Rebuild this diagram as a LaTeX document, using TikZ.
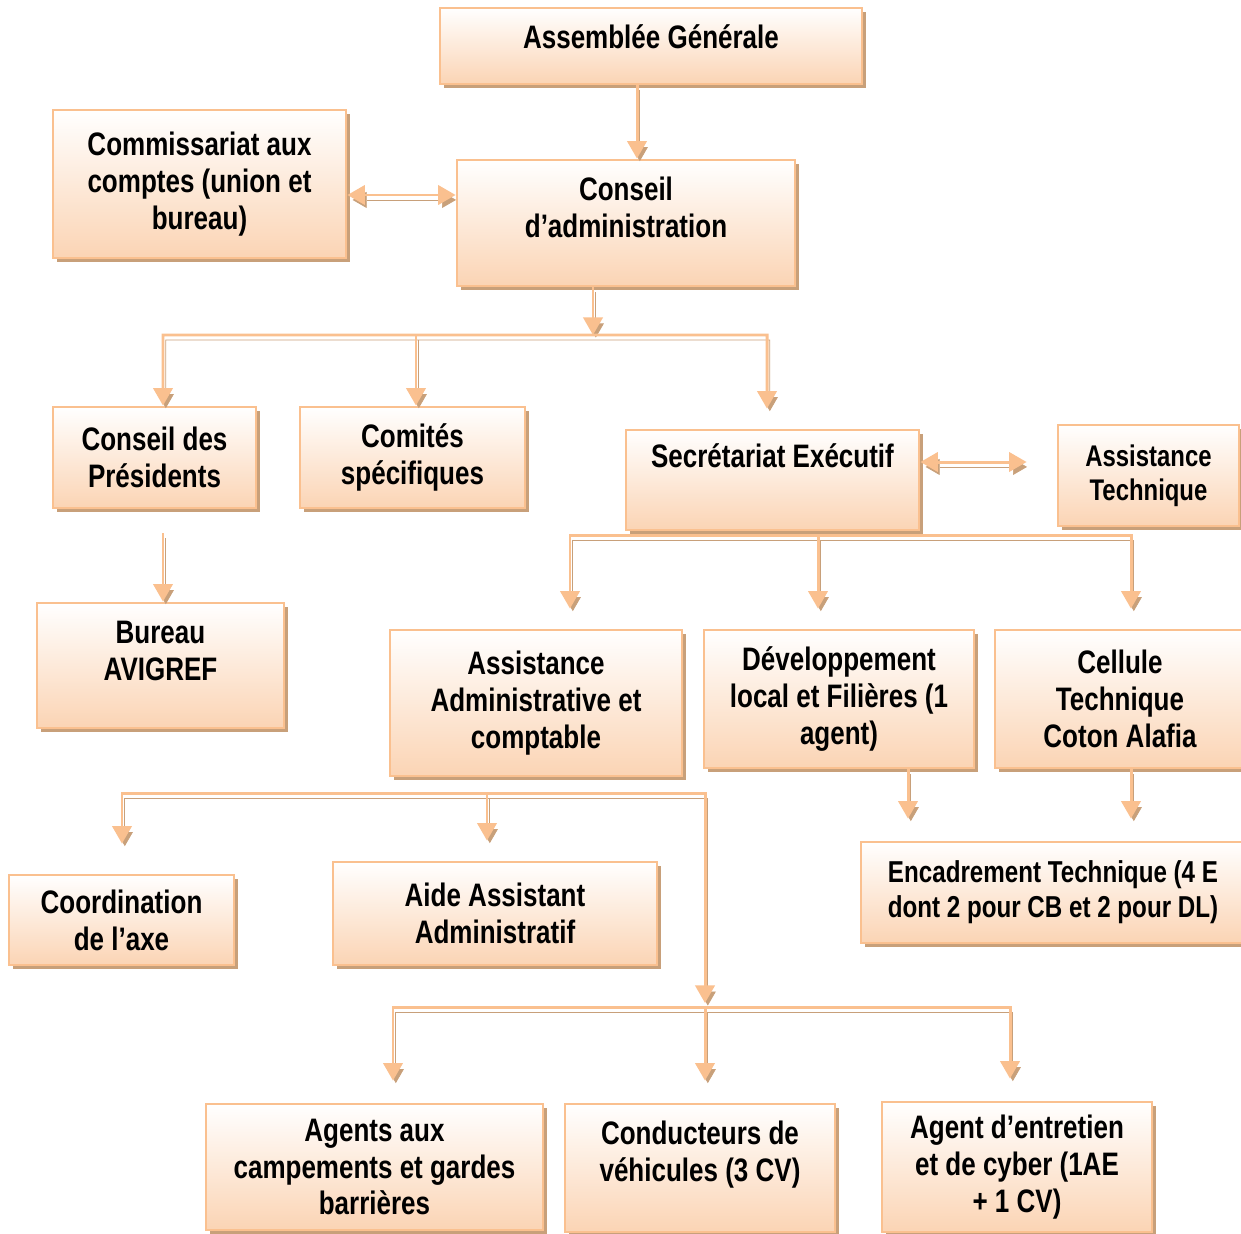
\documentclass[tikz,border=0pt]{standalone}
\usepackage{fontspec}
\setmainfont{Liberation Sans}[FakeStretch=0.8]
\usepackage{tikz}
\usetikzlibrary{arrows.meta, shadows, calc}

\definecolor{boxline}{RGB}{250,192,143}
\definecolor{boxfill}{RGB}{251,212,180}
\definecolor{boxshade}{RGB}{200,160,122}

\begin{document}
\begin{tikzpicture}[
		x=0.02cm, y=-0.02cm,
		box/.style={rectangle, draw=boxline, line width=1.6pt, top color=white, bottom color=boxfill, drop shadow={shadow xshift=2.5pt, shadow yshift=-2.5pt, fill=boxshade, opacity=1}, align=center, inner sep=2pt, font=\fontsize{18.5}{21}\selectfont\bfseries},
		link/.style={draw=boxline, line width=1.7pt, -{Triangle[width=11pt,length=10pt]}, preaction={draw=boxshade, transform canvas={shift={(1.6pt,-2.8pt)}}}},
		both/.style={link, {Triangle[width=11pt,length=10pt]}-{Triangle[width=11pt,length=10pt]}}
		]
		\useasboundingbox (0,0) rectangle (1241,1234);
		% Nodes
		\node[box, minimum width=8.44cm, minimum height=1.52cm] (ag) at (651,46) {Assemblée Générale\\[-17pt]\strut};
		\node[box, minimum width=5.86cm, minimum height=2.96cm] (cac) at (199.5,184) {Commissariat aux\\comptes (union et\\bureau)};
		\node[box, minimum width=6.76cm, minimum height=2.52cm] (ca) at (626,223) {Conseil\\d’administration\\[-9pt]\strut};
		\node[box, minimum width=4.06cm, minimum height=2.02cm] (cp) at (154.5,457.5) {Conseil des\\Présidents};
		\node[box, minimum width=4.5cm, minimum height=2.02cm] (cs) at (412.5,457.5) {Comités\\spécifiques};
		\node[box, minimum width=5.86cm, minimum height=2cm] (se) at (772.5,480) {Secrétariat Exécutif\\\strut};
		\node[box, minimum width=3.62cm, minimum height=2.02cm, font=\fontsize{17}{19.5}\selectfont\bfseries] (at) at (1148.5,475.5) {Assistance\\Technique};
		\node[box, minimum width=4.94cm, minimum height=2.5cm] (bur) at (160.5,665.5) {Bureau\\AVIGREF\\[-11pt]\strut};
		\node[box, minimum width=5.84cm, minimum height=2.92cm] (aac) at (536,703) {Assistance\\Administrative et\\comptable};
		\node[box, minimum width=5.4cm, minimum height=2.76cm] (dl) at (839,699) {Développement\\local et Filières (1\\agent)};
		\node[box, minimum width=5cm, minimum height=2.76cm] (ct) at (1120,699) {Cellule\\Technique\\Coton Alafia};
		\node[box, minimum width=7.68cm, minimum height=2.02cm, font=\fontsize{17.2}{20}\selectfont\bfseries] (et) at (1053,892.5) {Encadrement Technique (4 E\\dont 2 pour CB et 2 pour DL)};
		\node[box, minimum width=4.5cm, minimum height=1.8cm] (co) at (121.5,920) {Coordination\\de l’axe};
		\node[box, minimum width=6.48cm, minimum height=2.06cm] (aide) at (495,913.5) {Aide Assistant\\Administratif};
		\node[box, minimum width=6.74cm, minimum height=2.52cm] (agc) at (374.5,1167) {Agents aux\\campements et gardes\\barrières};
		\node[box, minimum width=5.4cm, minimum height=2.56cm] (cv) at (700,1168) {Conducteurs de\\véhicules (3 CV)\\[-8pt]\strut};
		\node[box, minimum width=5.4cm, minimum height=2.6cm] (ae) at (1017,1167) {Agent d’entretien\\et de cyber (1AE\\+ 1 CV)};

		% Bus points
		\coordinate (b0) at (593,335);
		\coordinate (b1) at (163,335);
		\coordinate (b2) at (767,335);
		\coordinate (b3) at (416,335);
		\coordinate (s1) at (570,535);
		\coordinate (s2) at (1131,535);
		\coordinate (s3) at (818,535);
		\coordinate (a1) at (122,793);
		\coordinate (a2) at (705,793);
		\coordinate (a3) at (705,1003);
		\coordinate (a4) at (487,793);
		\coordinate (c1) at (393,1007);
		\coordinate (c2) at (1010,1007);
		\coordinate (c3) at (705,1007);

		% Arrows
		\draw[link] ($(ag.south)+(-14,0)$) -- ($(ca.north)+(11,0)$);
		\draw[both] ($(cac.east)+(0,11)$) -- ($(ca.west)+(0,-28)$);
		\draw[link] ($(ca.south)+(-33,0)$) -- (b0);
		\draw[both] ($(cp.north)+(8.5,0)$) -- (b1) -- (b2) -- ($(se.north)+(-5.5,-20)$);
		\draw[link] (b3) -- (b3 |- cs.north);
		\draw[link] ($(cp.south)+(8.5,24)$) -- ($(bur.north)+(2.5,0)$);
		\draw[both] ($(se.east)+(0,-18)$) -- ($(at.west)+(-30,-13.5)$);
		\draw[both] ($(s1 |- aac.north)+(0,-20)$) -- (s1) -- (s2) -- ($(s2 |- ct.north)+(0,-20)$);
		\draw[link] (s3) -- ($(s3 |- dl.north)+(0,-20)$);
		\draw[link] ($(dl.south)+(69,0)$) -- ($(et.north)+(-145,-22)$);
		\draw[link] ($(ct.south)+(11,0)$) -- ($(et.north)+(78,-22)$);
		\draw[both] ($(a1 |- co.north)+(0,-30)$) -- (a1) -- (a2) -- (a3);
		\draw[link] (a4) -- ($(a4 |- aide.north)+(0,-20)$);
		\draw[both] ($(c1 |- agc.north)+(0,-22)$) -- (c1) -- (c2) -- ($(c2 |- ae.north)+(0,-22)$);
		\draw[link] (c3) -- ($(c3 |- cv.north)+(0,-22)$);
	\end{tikzpicture}
\end{document}
